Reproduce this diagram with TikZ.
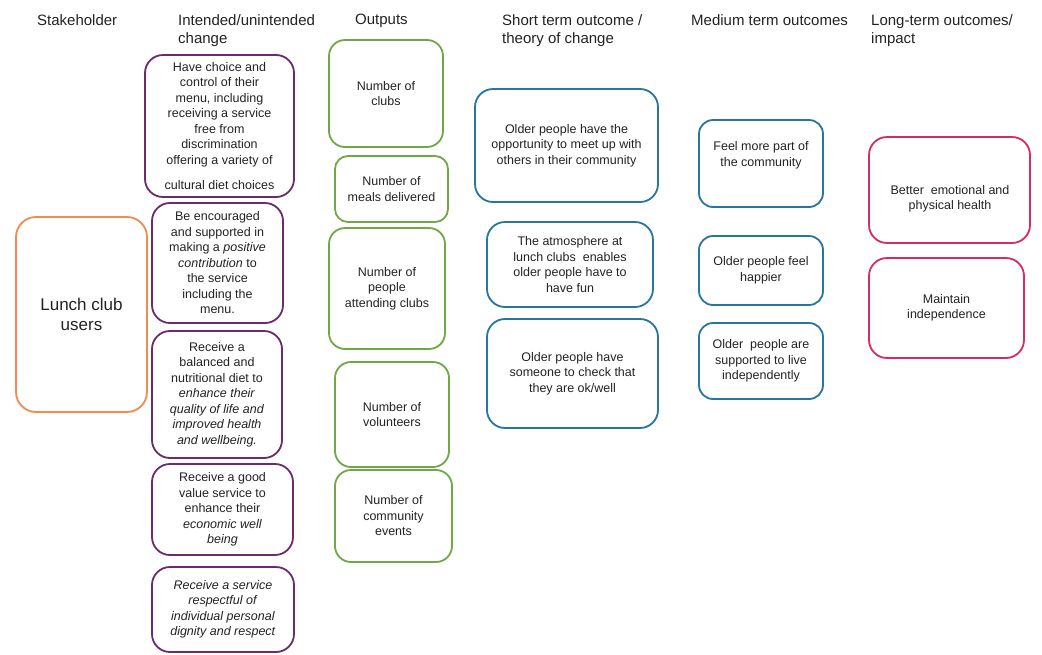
\documentclass[tikz,border=0pt]{standalone}
\usepackage{fontspec}
\setmainfont{Liberation Sans}
\definecolor{cOrange}{RGB}{240,140,80}
\definecolor{cPurple}{RGB}{108,44,108}
\definecolor{cGreen}{RGB}{112,168,70}
\definecolor{cTeal}{RGB}{38,118,158}
\definecolor{cPink}{RGB}{214,44,100}
\definecolor{cText}{RGB}{35,35,35}
\tikzset{
  box/.style={draw, rounded corners=16pt, line width=1.8pt, inner sep=0pt, align=center,
    text=cText, font=\fontsize{12.5}{15.5}\selectfont},
  txt/.style={inner sep=0pt, align=center, text=cText, font=\fontsize{12.5}{15.5}\selectfont},
  hdr/.style={inner sep=0pt, anchor=north west, align=left, text=cText, font=\fontsize{15}{18}\selectfont},
  stake/.style={box, draw=cOrange, rounded corners=20pt, font=\fontsize{17}{20}\selectfont},
  chg/.style={box, draw=cPurple, rounded corners=18pt},
  outp/.style={box, draw=cGreen},
  sto/.style={box, draw=cTeal, rounded corners=18pt},
  mto/.style={box, draw=cTeal, rounded corners=14pt},
  lto/.style={box, draw=cPink, rounded corners=18pt}
}
\begin{document}
\begin{tikzpicture}[x=1pt, y=-1pt]
\useasboundingbox[fill=white] (0,0) rectangle (1042,654);
% headers
\node[hdr] (h1) at (37,14) {Stakeholder};
\node[hdr] (h2) at (178,14) {Intended/unintended\\change};
\node[hdr] (h3) at (355,14) {Outputs};
\node[hdr] (h4) at (502,14) {Short term outcome /\\theory of change};
\node[hdr] (h5) at (691,14) {Medium term outcomes};
\node[hdr] (h6) at (871,14) {Long-term outcomes/\\impact};
% stakeholder
\node[stake, minimum width=131, minimum height=195] (s1) at (81.5,314.5) {Lunch club\\users};
% intended / unintended change
\node[chg, minimum width=149, minimum height=142] (p1) at (219.5,126) {Have choice and\\control of their\\menu, including\\receiving a service\\free from\\discrimination\\offering a variety of\\[10pt]cultural diet choices};
\node[chg, minimum width=131, minimum height=120] (p2) at (217.5,263) {Be encouraged\\and supported in\\making a \textit{positive}\\\textit{contribution} to\\the service\\including the\\menu.};
\node[chg, minimum width=130, minimum height=127] (p3) at (217,394.5) {Receive a\\balanced and\\nutritional diet to\\\textit{enhance their}\\\textit{quality of life and}\\\textit{improved health}\\\textit{and wellbeing.}};
\node[chg, minimum width=141, minimum height=91] (p4) at (222.5,509.5) {Receive a good\\value service to\\enhance their\\\textit{economic well}\\\textit{being}};
\node[chg, minimum width=142, minimum height=85] (p5) at (223,609.5) {\textit{Receive a service}\\\textit{respectful of}\\\textit{individual personal}\\\textit{dignity and respect}};
% outputs
\node[outp, minimum width=114, minimum height=107] (g1) at (386,93.5) {Number of\\clubs};
\node[outp, minimum width=113, minimum height=66, rounded corners=13pt] (g2) at (391.5,189) {Number of\\meals delivered};
\node[outp, minimum width=116, minimum height=121] (g3) at (387,288.5) {Number of\\people\\attending clubs};
\node[outp, minimum width=114, minimum height=105] (g4) at (392,414.5) {Number of\\volunteers};
\node[outp, minimum width=117, minimum height=92] (g5) at (393.5,516) {Number of\\community\\events};
% short term outcomes
\node[sto, minimum width=183, minimum height=113] (t1) at (566.5,145.5) {Older people have the\\opportunity to meet up with\\others in their community};
\node[sto, minimum width=166, minimum height=85] (t2) at (570,264.5) {The atmosphere at\\lunch clubs\ \ enables\\older people have to\\have fun};
\node[sto, minimum width=171, minimum height=109] (t3) at (572.5,373.5) {Older people have\\someone to check that\\they are ok/well};
% medium term outcomes
\node[mto, minimum width=124, minimum height=87] (m1) at (761,163.5) {};
\node[txt] (m1t) at (761,155.5) {Feel more part of\\the community};
\node[mto, minimum width=124, minimum height=69] (m2) at (761,270.5) {Older people feel\\happier};
\node[mto, minimum width=124, minimum height=76] (m3) at (761,361) {Older\ \ people are\\supported to live\\independently};
% long term outcomes
\node[lto, minimum width=161, minimum height=106] (l1) at (949.5,190) {};
\node[txt] (l1t) at (950,199) {Better\ \ emotional and\\physical health};
\node[lto, minimum width=155, minimum height=100] (l2) at (946.5,308) {Maintain\\independence};
\end{tikzpicture}
\end{document}
